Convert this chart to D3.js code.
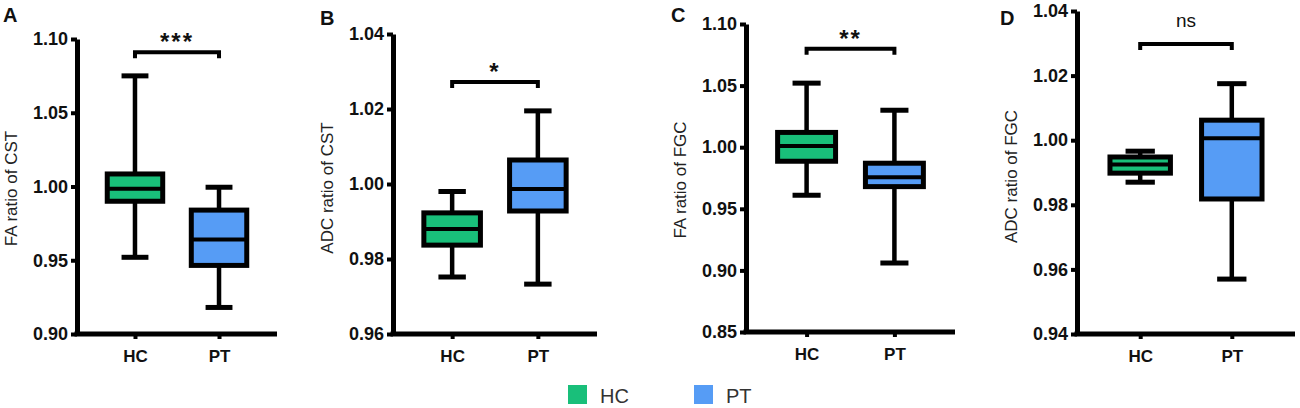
<!DOCTYPE html>
<html>
<head>
<meta charset="utf-8">
<script src="https://cdn.jsdelivr.net/npm/d3@7"></script>
<style>
  body { margin: 0; background: #fff; }
  svg text { font-family: "Liberation Sans", Arial, sans-serif; }
</style>
</head>
<body>
<div id="chart"></div>
<script>
// groups and colours
const groups = ['HC', 'PT'];
const groupColors = ['#19bf7a', '#569cf5'];

// one entry per panel
const panelLetters = ['A', 'B', 'C', 'D'];
const yTitles = ['FA ratio of CST', 'ADC ratio of CST', 'FA ratio of FGC', 'ADC ratio of FGC'];
const yDomains = [[0.90, 1.10], [0.96, 1.04], [0.85, 1.10], [0.94, 1.04]];
const yTicks = [
    [0.90, 0.95, 1.00, 1.05, 1.10],
    [0.96, 0.98, 1.00, 1.02, 1.04],
    [0.85, 0.90, 0.95, 1.00, 1.05, 1.10],
    [0.94, 0.96, 0.98, 1.00, 1.02, 1.04]
];

// [min, q1, median, q3, max] for HC, PT
const hcStats = [
    [0.952, 0.990, 0.9985, 1.0085, 1.075],
    [0.9752, 0.9837, 0.9880, 0.9923, 0.9980],
    [0.961, 0.9886, 1.001, 1.012, 1.052],
    [0.9870, 0.9898, 0.9925, 0.9948, 0.9966]
];
const ptStats = [
    [0.918, 0.9465, 0.964, 0.984, 0.9995],
    [0.9733, 0.9928, 0.9987, 1.0064, 1.0195],
    [0.906, 0.968, 0.9756, 0.987, 1.030],
    [0.957, 0.9818, 1.0006, 1.0062, 1.0175]
];

const sigLabels = ['***', '*', '**', 'ns'];
const sigLevels = [1.091, 1.0272, 1.080, 1.0298];

// layout of each panel (pixels)
const frames = [
    {left: 77, right: 277, top: 39, bottom: 334},
    {left: 393, right: 597, top: 34, bottom: 334},
    {left: 746, right: 955, top: 24, bottom: 332},
    {left: 1077, right: 1295, top: 11, bottom: 334}
];
const letterPos = [[3, 22], [320, 25], [671, 22], [1000, 25]];

const width = 1300, height = 408;
const svg = d3.select('#chart').append('svg')
    .attr('width', width)
    .attr('height', height);

const fmt = d3.format('.2f');

frames.forEach((f, i) => {
    const y = d3.scaleLinear().domain(yDomains[i]).range([f.bottom, f.top]);
    const x = d3.scalePoint().domain(groups).range([f.left, f.right]).padding(0.69);
    const step = x.step();
    const boxW = step * 0.66;
    const capW = step * 0.32;

    const g = svg.append('g');

    // y axis
    const yAxis = g.append('g')
        .attr('transform', 'translate(' + f.left + ',0)')
        .call(d3.axisLeft(y).tickValues(yTicks[i]).tickFormat(fmt).tickSize(6).tickSizeOuter(0).tickPadding(3));
    yAxis.select('.domain').attr('stroke-width', 5).attr('stroke', '#000');
    yAxis.selectAll('.tick line').attr('stroke-width', 4);
    yAxis.selectAll('.tick text')
        .style('font-size', '18px')
        .style('font-weight', 'bold')
        .attr('fill', '#111');

    // x axis
    const xAxis = g.append('g')
        .attr('transform', 'translate(0,' + f.bottom + ')')
        .call(d3.axisBottom(x).tickSize(5).tickSizeOuter(0).tickPadding(11));
    xAxis.select('.domain').attr('stroke-width', 5).attr('stroke', '#000')
        .attr('d', 'M' + (f.left - 2.5) + ',0H' + f.right);
    xAxis.selectAll('.tick line').attr('stroke-width', 4);
    xAxis.selectAll('.tick text')
        .style('font-size', '17px')
        .style('font-weight', 'bold')
        .attr('fill', '#111');

    // boxes
    const stats = [hcStats[i], ptStats[i]];
    const boxes = g.selectAll('.box')
        .data(groups.map((name, k) => ({name, s: stats[k], color: groupColors[k]})))
        .enter().append('g')
        .attr('class', 'box');

    boxes.append('line')
        .attr('x1', d => x(d.name)).attr('x2', d => x(d.name))
        .attr('y1', d => y(d.s[4])).attr('y2', d => y(d.s[0]))
        .attr('stroke', '#000').attr('stroke-width', 4.5);
    boxes.selectAll('.cap')
        .data(d => [d, d].map((e, k) => ({name: e.name, v: k ? e.s[0] : e.s[4]})))
        .enter().append('line')
        .attr('x1', d => x(d.name) - capW / 2).attr('x2', d => x(d.name) + capW / 2)
        .attr('y1', d => y(d.v)).attr('y2', d => y(d.v))
        .attr('stroke', '#000').attr('stroke-width', 5);
    boxes.append('rect')
        .attr('x', d => x(d.name) - boxW / 2)
        .attr('width', boxW)
        .attr('y', d => y(d.s[3]))
        .attr('height', d => y(d.s[1]) - y(d.s[3]))
        .attr('fill', d => d.color)
        .attr('stroke', '#000').attr('stroke-width', 5);
    boxes.append('line')
        .attr('x1', d => x(d.name) - boxW / 2).attr('x2', d => x(d.name) + boxW / 2)
        .attr('y1', d => y(d.s[2])).attr('y2', d => y(d.s[2]))
        .attr('stroke', '#000').attr('stroke-width', 4);

    // significance bracket
    const by = y(sigLevels[i]);
    const x1 = x('HC'), x2 = x('PT');
    g.append('path')
        .attr('d', 'M' + x1 + ',' + (by + 6) + 'V' + by + 'H' + x2 + 'V' + (by + 6))
        .attr('fill', 'none').attr('stroke', '#000').attr('stroke-width', 4);
    const ns = sigLabels[i] === 'ns';
    g.append('text')
        .attr('x', (x1 + x2) / 2)
        .attr('y', ns ? by - 17 : by - 2)
        .attr('text-anchor', 'middle')
        .style('font-size', ns ? '19px' : '24px')
        .style('font-weight', ns ? 'normal' : 'bold')
        .style('letter-spacing', ns ? '0px' : '2px')
        .attr('fill', '#111')
        .text(sigLabels[i]);

    // y title
    g.append('text')
        .attr('transform', 'translate(' + (f.left - 60) + ',' + ((f.top + f.bottom) / 2 + (i % 2 ? 4 : 2)) + ')rotate(-90)')
        .attr('text-anchor', 'middle')
        .style('font-size', '17px')
        .attr('fill', '#222')
        .text(yTitles[i]);

    // panel letter
    g.append('text')
        .attr('x', letterPos[i][0]).attr('y', letterPos[i][1])
        .style('font-size', '20px')
        .style('font-weight', 'bold')
        .attr('fill', '#111')
        .text(panelLetters[i]);
});

// legend
const legend = svg.append('g').attr('transform', 'translate(568,385)');
const items = legend.selectAll('g')
    .data(groups)
    .enter().append('g')
    .attr('transform', (d, k) => 'translate(' + (k * 126) + ',0)');
items.append('rect')
    .attr('width', 19).attr('height', 19)
    .attr('fill', (d, k) => groupColors[k]);
items.append('text')
    .attr('x', 32).attr('y', 18)
    .style('font-size', '20px')
    .attr('fill', '#333')
    .text(d => d);
</script>
</body>
</html>
